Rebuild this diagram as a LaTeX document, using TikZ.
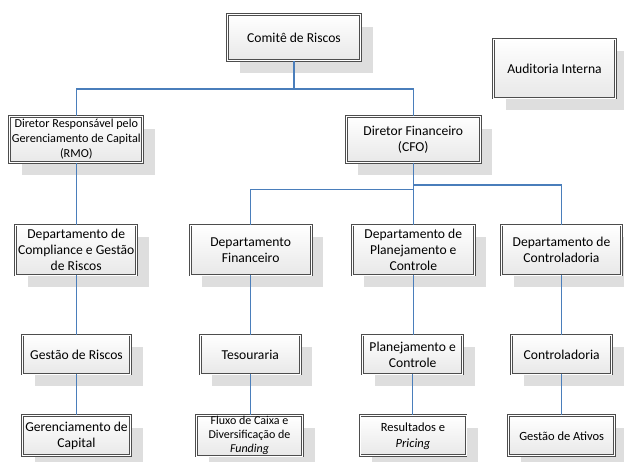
\documentclass[tikz,border=0pt]{standalone}
\usepackage{fontspec}
\setmainfont{Carlito}
\usetikzlibrary{shadows}
\definecolor{conncol}{HTML}{4A7EBB}
\definecolor{bordcol}{HTML}{4D4D4D}
\definecolor{shadcol}{HTML}{DEDEDE}
\begin{document}
\begin{tikzpicture}[x=1pt,y=-1pt,
  box/.style={draw=bordcol, line width=0.9pt, double=white, double distance=1pt,
    top color=white, bottom color=black!9, align=center, inner sep=1pt,
    font=\fontsize{13.6}{16}\selectfont,
    general shadow={fill=shadcol, shadow xshift=12pt, shadow yshift=-12pt}},
  conn/.style={draw=conncol, line width=1.1pt}]
\useasboundingbox (0,0) rectangle (624,461);
% row 1
\node[box, minimum width=133pt, minimum height=46pt] (com) at (294,37.8) {Comitê de Riscos};
\node[box, minimum width=122pt, minimum height=59pt] (aud) at (554.5,68.5) {Auditoria Interna};
% row 2
\node[box, minimum width=133pt, minimum height=46pt, font=\fontsize{12.2}{15}\selectfont] (rmo) at (76.3,139.5) {Diretor Responsável pelo\\Gerenciamento de Capital\\(RMO)};
\node[box, minimum width=134pt, minimum height=46pt] (cfo) at (413.3,139.5) {Diretor Financeiro\\(CFO)};
% row 3
\node[box, minimum width=121pt, minimum height=50pt] (dcomp) at (76.2,250) {Departamento de\\Compliance e Gestão\\de Riscos};
\node[box, minimum width=121pt, minimum height=50pt] (dfin) at (250.7,250) {Departamento\\Financeiro};
\node[box, minimum width=122pt, minimum height=50pt] (dplan) at (413.3,250) {Departamento de\\Planejamento e\\Controle};
\node[box, minimum width=120pt, minimum height=50pt] (dctrl) at (561.5,250) {Departamento de\\Controladoria};
% row 4
\node[box, minimum width=108pt, minimum height=39pt] (gr) at (76.5,354.5) {Gestão de Riscos};
\node[box, minimum width=100pt, minimum height=39pt] (tes) at (250.3,354.5) {Tesouraria};
\node[box, minimum width=100pt, minimum height=39pt] (plc) at (412.7,354.5) {Planejamento e\\Controle};
\node[box, minimum width=100pt, minimum height=39pt] (ctl) at (561.7,354.5) {Controladoria};
% row 5
\node[box, minimum width=108pt, minimum height=40pt] (gc) at (76.5,435.8) {Gerenciamento de\\Capital};
\node[box, minimum width=106pt, minimum height=40pt, font=\fontsize{12}{14}\selectfont] (flx) at (249.5,435.8) {Fluxo de Caixa e\\Diversificação de\\\textit{Funding}};
\node[box, minimum width=106pt, minimum height=40pt, font=\fontsize{12.5}{16}\selectfont] (res) at (413,435.8) {Resultados e\\\textit{Pricing}};
\node[box, minimum width=106pt, minimum height=40pt, font=\fontsize{12.5}{15}\selectfont] (ga) at (561.7,435.8) {Gestão de Ativos};
% connectors
\draw[conn] (com.south) -- (com.south |- 0,89) -| (rmo.north);
\draw[conn] (com.south) -- (com.south |- 0,89) -| (cfo.north);
\draw[conn] (rmo.south) -- (rmo.south |- dcomp.north);
\draw[conn] (cfo.south) -- (cfo.south |- 0,189.5) -| (dfin.north);
\draw[conn] (cfo.south) -- (cfo.south |- dplan.north);
\draw[conn] (cfo.south) -- (cfo.south |- 0,185) -| (dctrl.north);
\draw[conn] (dcomp.south) -- (dcomp.south |- gr.north);
\draw[conn] (dfin.south) -- (dfin.south |- tes.north);
\draw[conn] (dplan.south) -- (dplan.south |- plc.north);
\draw[conn] (dctrl.south) -- (dctrl.south |- ctl.north);
\draw[conn] (gr.south) -- (gr.south |- gc.north);
\draw[conn] (tes.south) -- (tes.south |- flx.north);
\draw[conn] (plc.south) -- (plc.south |- res.north);
\draw[conn] (ctl.south) -- (ctl.south |- ga.north);
\end{tikzpicture}
\end{document}
